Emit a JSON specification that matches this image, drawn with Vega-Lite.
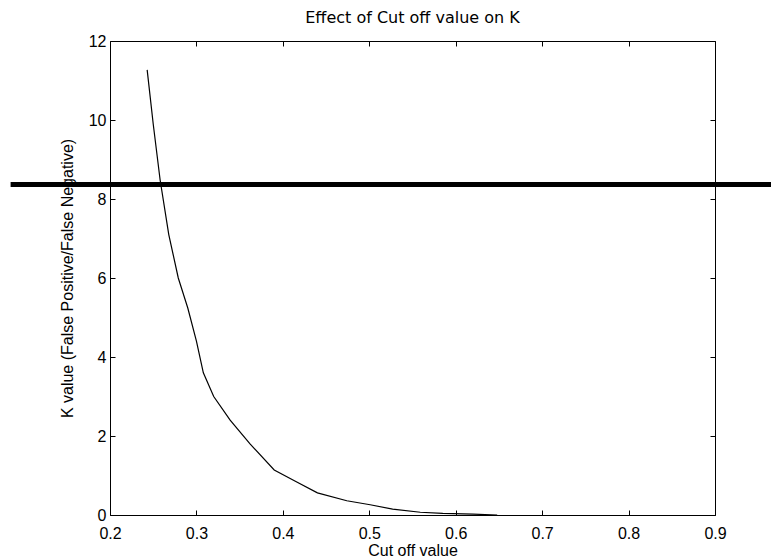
{
  "$schema": "https://vega.github.io/schema/vega-lite/v6.json",
  "width": 605,
  "height": 474,
  "autosize": {"type": "none"},
  "padding": {"left": 110, "top": 41, "right": 56, "bottom": 45},
  "background": "white",
  "title": {"text": "Effect of Cut off value on K", "fontSize": 16, "fontWeight": "normal", "font": "DejaVu Sans", "color": "black", "offset": 7, "anchor": "middle"},
  "config": {
    "view": {"stroke": "black", "strokeWidth": 1},
    "axis": {"domain": false, "grid": false, "labelFlush": false, "labelOverlap": false, "tickColor": "black", "labelColor": "black", "titleColor": "black", "labelFont": "Liberation Sans", "titleFont": "Liberation Sans", "labelFontSize": 16, "titleFontSize": 16, "titleFontWeight": "normal"}
  },
  "datasets": {
    "curve": [
      {"cutoff": 0.243, "k": 11.27},
      {"cutoff": 0.250, "k": 9.9},
      {"cutoff": 0.258, "k": 8.48},
      {"cutoff": 0.268, "k": 7.1},
      {"cutoff": 0.279, "k": 6.0},
      {"cutoff": 0.290, "k": 5.24},
      {"cutoff": 0.300, "k": 4.4},
      {"cutoff": 0.308, "k": 3.6},
      {"cutoff": 0.320, "k": 3.0},
      {"cutoff": 0.339, "k": 2.4},
      {"cutoff": 0.362, "k": 1.8},
      {"cutoff": 0.390, "k": 1.14},
      {"cutoff": 0.415, "k": 0.85},
      {"cutoff": 0.440, "k": 0.56},
      {"cutoff": 0.474, "k": 0.36},
      {"cutoff": 0.501, "k": 0.26},
      {"cutoff": 0.527, "k": 0.15},
      {"cutoff": 0.559, "k": 0.07},
      {"cutoff": 0.585, "k": 0.04},
      {"cutoff": 0.620, "k": 0.02},
      {"cutoff": 0.648, "k": 0.0}
    ],
    "band": [
      {"start": 0.085, "end": 0.97, "k": 8.37}
    ]
  },
  "layer": [
    {
      "data": {"name": "curve"},
      "mark": {"type": "line", "color": "black", "strokeWidth": 1.2},
      "encoding": {
        "x": {"field": "cutoff", "type": "quantitative", "scale": {"domain": [0.2, 0.9], "nice": false, "zero": false},
          "axis": {"orient": "bottom", "values": [0.2, 0.3, 0.4, 0.5, 0.6, 0.7, 0.8, 0.9], "format": ".1f", "tickSize": -5, "labelPadding": 15, "title": "Cut off value", "titlePadding": 1}},
        "y": {"field": "k", "type": "quantitative", "scale": {"domain": [0, 12], "nice": false},
          "axis": {"orient": "left", "values": [0, 2, 4, 6, 8, 10, 12], "format": "d", "tickSize": -5, "labelPadding": 9, "title": "K value (False Positive/False Negative)", "titlePadding": 13}}
      }
    },
    {
      "data": {"name": "curve"},
      "mark": {"type": "line", "opacity": 0},
      "encoding": {
        "x": {"field": "cutoff", "type": "quantitative", "scale": {"domain": [0.2, 0.9], "nice": false, "zero": false},
          "axis": {"orient": "top", "values": [0.2, 0.3, 0.4, 0.5, 0.6, 0.7, 0.8, 0.9], "labels": false, "tickSize": -5, "title": null}},
        "y": {"field": "k", "type": "quantitative", "scale": {"domain": [0, 12], "nice": false},
          "axis": {"orient": "right", "values": [0, 2, 4, 6, 8, 10, 12], "labels": false, "tickSize": -5, "title": null}}
      }
    },
    {
      "data": {"name": "band"},
      "mark": {"type": "rule", "color": "black", "strokeWidth": 5, "clip": false},
      "encoding": {
        "x": {"field": "start", "type": "quantitative", "axis": null},
        "x2": {"field": "end"},
        "y": {"field": "k", "type": "quantitative", "axis": null}
      }
    }
  ],
  "resolve": {"axis": {"x": "independent", "y": "independent"}}
}
